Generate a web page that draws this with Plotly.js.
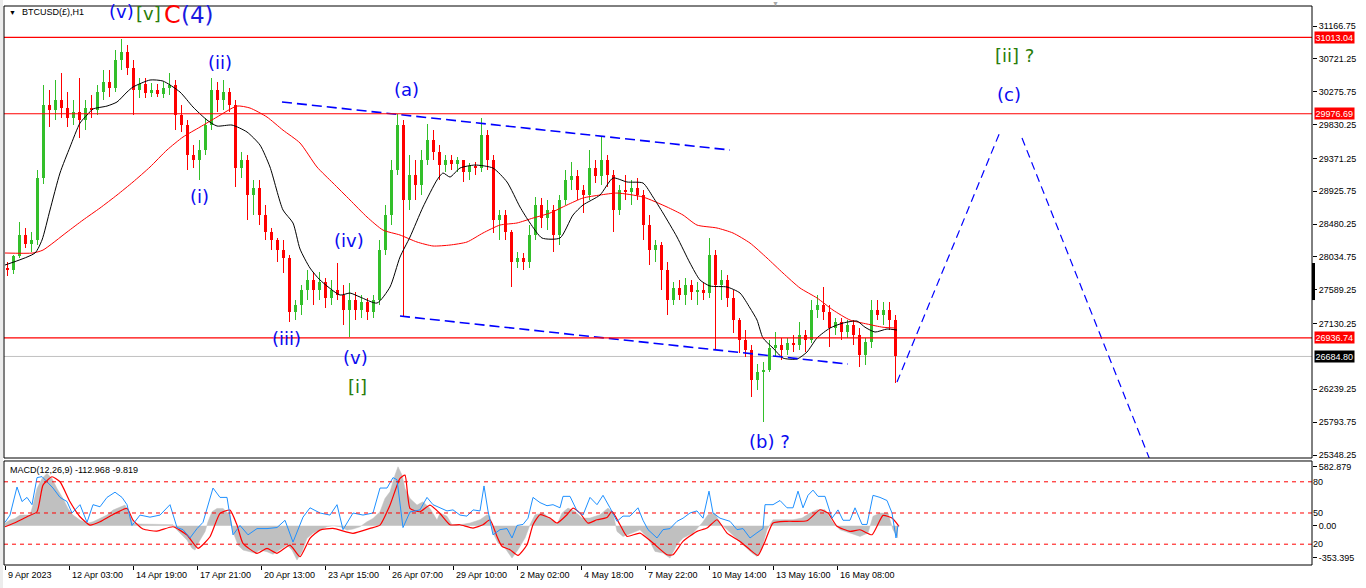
<!DOCTYPE html>
<html>
<head>
<meta charset="utf-8">
<script src="https://cdn.plot.ly/plotly-3.0.1.min.js"></script>
<style>
html,body{margin:0;padding:0;background:#ffffff;}
#chart{width:1366px;height:588px;}
</style>
</head>
<body>
<div id="chart"></div>
<script>
// ---------- DATA ----------
// Each drawn candle aggregates 6 hourly bars (bar index = hourly bar number)
const BARS_PER_CANDLE = 6;

const opens = [
27884,27857,28047,28332,28210,28264,29105,30095,30027,30163,
30054,29919,29999,29891,30054,30027,30271,30407,30325,30705,
30814,30597,30298,30380,30258,30298,30244,30325,30366,29959,
29823,29417,29349,29485,29823,30298,30163,30271,30095,29240,
29349,28874,28969,28603,28372,28264,28128,28020,27287,27382,
27586,27722,27586,27694,27478,27586,27518,27314,27450,27314,
27423,27287,27450,28128,28603,29213,29823,28807,29145,29010,
29349,29620,29457,29281,29349,29295,29349,29186,29268,29240,
29688,29349,28535,28603,28372,27966,28020,27966,28332,28739,
28562,28671,28332,28807,29078,29132,28942,28874,29240,29132,
29349,29145,28671,28942,28915,28969,28874,28467,28128,28196,
27857,27450,27613,27518,27654,27559,27586,27545,28061,27654,
27722,27478,27179,26908,26772,26365,26474,26501,26799,26840,
26772,26867,26840,26975,26908,27314,27382,27287,27070,27152,
27016,27111,26975,26704,26880,27314,27247,27314,27179];
const highs = [
27966,28061,28508,28427,28372,29213,30366,30298,30434,30529,
30271,30163,30461,30163,30230,30366,30570,30570,30841,30990,
30909,30705,30461,30461,30393,30380,30407,30529,30434,30095,
29891,29552,29620,29919,30461,30407,30434,30325,30163,29457,
29417,29078,29078,28739,28427,28291,28264,28061,27450,27654,
27857,27830,27830,27749,27722,27952,27654,27681,27559,27518,
27478,27518,28264,28739,29349,29973,29891,29417,29349,29485,
29837,29754,29552,29417,29417,29390,29349,29308,29322,29919,
29754,29417,28671,28671,28399,28101,28088,28467,28847,28834,
28807,28739,28874,29213,29322,29213,29010,29485,29349,29661,
29417,29213,29010,29145,29078,29105,28942,28603,28264,28237,
27966,27694,27722,27749,27722,27694,27681,28291,28128,27857,
27789,27586,27206,27043,26840,26582,26609,26908,27016,26935,
26935,26975,27152,27043,27450,27518,27627,27382,27206,27206,
27179,27179,27070,26935,27450,27450,27423,27423,27247];
const lows = [
27776,27803,28020,28156,28101,28196,29023,29796,29891,29919,
29796,29823,29647,29754,29919,29959,30163,30203,30271,30570,
30502,29959,30190,30190,30203,30203,30190,30230,29754,29729,
29213,29240,29078,29417,29754,29999,30027,29999,28983,29105,
28535,28603,28467,28264,28128,27966,27816,27152,27179,27247,
27450,27382,27450,27342,27382,27450,27111,26948,27179,27206,
27179,27206,27382,28061,28467,29145,27220,28671,28807,28874,
29281,29349,29078,29186,29213,29186,29051,29078,29145,29186,
29213,28359,28264,28264,27627,27884,27857,27884,28264,28427,
28399,28101,28196,28739,28942,28807,28630,28807,29037,29010,
28983,28372,28603,28807,28739,28807,28264,27925,27966,27586,
27247,27382,27450,27382,27450,27382,27450,27478,26772,27450,
27355,27003,26731,26677,26134,26229,25795,26474,26677,26636,
26704,26745,26772,26745,26867,27206,27179,26813,26975,26908,
26935,26840,26541,26569,26799,27179,27111,27043,26325];
const closes = [
27857,28047,28332,28210,28264,29105,30095,30027,30163,30054,
29919,29999,29891,30054,30027,30271,30407,30325,30705,30814,
30597,30298,30380,30258,30298,30244,30325,30366,29959,29823,
29417,29349,29485,29823,30298,30163,30271,30095,29240,29349,
28874,28969,28603,28372,28264,28128,28020,27287,27382,27586,
27722,27586,27694,27478,27586,27518,27314,27450,27314,27423,
27287,27450,28128,28603,29213,29823,28807,29145,29010,29349,
29620,29457,29281,29349,29295,29349,29186,29268,29240,29688,
29349,28535,28603,28372,27966,28020,27966,28332,28739,28562,
28671,28332,28807,29078,29132,28942,28874,29240,29132,29349,
29145,28671,28942,28915,28969,28874,28467,28128,28196,27857,
27450,27613,27518,27654,27559,27586,27545,28061,27654,27722,
27478,27179,26908,26772,26365,26474,26501,26799,26840,26772,
26867,26840,26975,26908,27314,27382,27287,27070,27152,27016,
27111,26975,26704,26880,27314,27247,27314,27179,26685];

// Black (fast) moving average, read at bar positions
const maFastBars = [0,30,37,45,55,65,75,82,88,102,112,122,128,145,158,175,188,202,212,227,242,255,265,278,288,295,305,315,335,345,355,372,385,395,405,418,432,438,445,455,470,488,502,515,525,537,555,568,578,595,608,622,638,648,658,672,685,695,705,722,735,745,752,758,768,778,792,802,812,825,838,852,860,870,882,892];
const maFastVals = [27925,28088,28264,28671,29173,29525,29851,29959,30041,30081,30136,30271,30339,30434,30420,30271,30068,29891,29810,29823,29729,29552,29254,28671,28495,28142,27884,27722,27518,27545,27491,27409,27627,28033,28305,28712,29078,29173,29118,29240,29281,29240,29051,28712,28495,28291,28291,28603,28739,28874,29105,29051,29037,28847,28630,28305,27952,27722,27640,27627,27545,27342,27179,26935,26799,26663,26650,26745,26935,27070,27138,27165,27081,27016,27057,27043];
// Red (slow) moving average
const maSlowBars = [0,28,38,62,78,95,112,128,145,162,178,195,212,232,245,262,278,295,312,328,345,362,378,395,412,428,445,462,478,495,512,528,545,562,578,595,612,638,662,678,692,712,728,745,762,778,795,812,828,845,862,878,892];
const maSlowVals = [28088,28088,28128,28372,28535,28698,28874,29051,29254,29485,29661,29796,29932,30081,30054,29932,29754,29580,29254,29037,28807,28576,28399,28332,28237,28183,28196,28237,28359,28467,28495,28562,28630,28739,28834,28874,28901,28847,28712,28603,28467,28427,28359,28223,28020,27816,27613,27478,27314,27179,27125,27081,27070];

// MACD(12,26,9): main (grey histogram) and signal (red)
const macdBars = [0,5,10,15,25,28,32,37,42,47,52,58,63,68,75,82,88,95,102,108,115,120,125,128,135,152,168,172,177,182,187,190,195,200,203,207,212,218,225,228,233,238,245,250,255,262,268,275,282,287,292,297,302,308,315,322,328,335,342,348,355,362,368,375,380,385,390,393,397,400,405,412,418,425,432,435,442,447,455,465,475,482,485,488,493,500,507,513,520,525,530,538,547,552,557,563,570,577,585,595,603,608,612,618,627,635,643,650,658,665,672,678,688,697,703,710,715,722,730,738,747,752,757,762,768,778,788,797,805,812,820,827,835,845,855,863,868,875,883,888,893];
const macdVals = [22,51,66,96,96,186,336,426,471,426,336,246,156,96,51,22,36,66,96,141,171,186,96,22,15,15,10,-39,-84,-129,-203,-219,-129,-54,36,126,156,156,96,-54,-174,-219,-234,-248,-219,-234,-257,-219,-174,-219,-309,-234,-113,-68,-39,-9,0,-9,-39,-30,-9,36,66,126,246,306,456,531,456,336,246,186,216,156,51,114,85,9,9,24,54,99,85,-66,-156,-201,-291,-216,-111,9,99,114,54,9,114,159,129,69,69,99,159,114,-51,-96,-66,-36,-111,-231,-246,-291,-171,-111,-66,24,99,114,24,-36,-111,-171,-246,-276,-201,-36,54,54,54,69,114,144,144,40,-36,-66,-96,-66,85,114,114,-36,-111];
const signalBars = [0,12,22,32,38,47,55,65,75,85,95,108,122,128,138,152,168,182,193,205,215,225,232,238,252,262,272,285,295,305,315,328,348,365,375,385,395,400,405,415,425,435,445,455,468,478,485,492,497,505,513,522,528,535,545,552,562,568,575,583,592,602,607,615,622,635,648,662,668,678,692,702,712,722,735,745,753,760,768,782,802,815,823,832,845,855,867,878,887,894];
const signalVals = [-9,36,81,126,366,441,396,216,81,6,36,102,156,51,-30,-48,-9,-84,-203,-99,111,141,6,-159,-248,-203,-248,-174,-279,-113,-39,-24,-68,-24,6,186,426,456,156,126,186,110,9,9,-21,9,54,-96,-186,-216,-267,-171,9,99,69,24,99,159,114,24,54,75,129,9,-96,-66,-156,-261,-261,-141,-51,-21,54,-66,-141,-216,-267,-141,24,40,45,144,114,-5,-51,-36,-81,93,69,-5];
// Blue oscillator (0-100 scale, levels 80 / 50 / 20)
const oscBars = [0,5,12,17,22,27,32,37,42,48,55,62,67,75,82,88,95,102,110,117,122,127,135,145,155,165,172,178,185,192,198,205,208,215,222,228,235,243,252,262,272,280,288,298,305,315,325,332,338,348,358,368,375,382,388,392,398,405,415,422,428,435,442,448,455,462,468,475,479,483,488,495,502,507,512,518,523,528,535,542,548,555,558,565,572,578,585,592,598,605,612,618,625,633,638,643,652,658,665,672,678,685,692,698,704,708,715,725,732,738,745,752,758,760,768,775,782,788,793,798,803,808,813,820,827,833,838,845,850,857,862,868,875,882,887,891,893];
const oscVals = [41,48,75,61,65,58,84,85,80,74,65,61,50,58,41,58,56,65,70,65,58,38,48,46,48,58,36,34,26,35,41,65,74,65,65,29,38,29,35,35,36,43,22,46,55,50,48,58,34,50,48,50,74,74,84,82,36,51,53,65,58,55,52,53,48,47,53,52,76,52,29,34,35,26,38,39,45,65,60,57,58,55,66,66,52,48,65,58,67,55,42,47,47,55,43,34,26,34,35,42,45,50,52,45,71,50,45,42,34,35,26,31,35,58,58,62,55,55,71,55,67,72,66,66,45,53,43,43,55,39,39,67,65,62,50,26,38];
const oscLevels = [80, 50, 20];

// Axis ticks
const timeTickBars = [0,64,128,192,256,320,384,448,512,576,640,704,768,832];
const timeTickLabels = ["9 Apr 2023","12 Apr 03:00","14 Apr 19:00","17 Apr 21:00","20 Apr 13:00","23 Apr 15:00","26 Apr 07:00","29 Apr 10:00","2 May 02:00","4 May 18:00","7 May 22:00","10 May 14:00","13 May 16:00","16 May 08:00"];
const priceTicks = [31166.75,30721.25,30275.75,29830.25,29371.25,28925.75,28480.25,28034.75,27589.25,27130.25,26239.25,25793.75,25348.25];
const macdMax = 582.879, macdMin = -353.395;

// Horizontal levels and last price
const levelPrices = [31013.04, 29976.69, 26936.74];
const lastPrice = 26684.80;

// Trend channel and projected path (bar index, price)
const channelUpperBars = [277, 725], channelUpperPrices = [30136, 29485];
const channelLowerBars = [395, 843], channelLowerPrices = [27233, 26582];
const projUpBars = [892, 995], projUpPrices = [26338, 29729];
const projDownBars = [1017, 1145], projDownPrices = [29647, 25280];

// Elliott wave labels
const waveTexts   = ["(v)","[v]","C","(4)","(ii)","(i)","(iii)","(iv)","(v)","[i]","(a)","(b) ?","(c)","[ii] ?"];
const waveBars    = [116,143,167,192,215,194,281,344,350,352,401,764,1004,1009];
const wavePrices  = [31370,31343,31316,31316,30665,28861,26922,28251,26664,26271,30299,25525,30231,30760];
const waveDegrees = ["minute","minor","primary","intermediate","minute","minute","minute","minute","minute","minor","minute","minute","minute","minor"];

// ---------- STYLE ----------
const AX_FONT = "'Liberation Sans', Arial, sans-serif";
const LBL_FONT = "'DejaVu Sans', Verdana, sans-serif";
const degreeStyle = {
  minute: {color:'#0a0af0', size:18},
  minor: {color:'#2a7d0a', size:18},
  primary: {color:'#ff0000', size:24},
  intermediate: {color:'#1a1ae0', size:23}
};
const UP = '#33bf2a', DOWN = '#ff0000';
const PLOT_W = 1308, PLOT_H = 559;
const px2paperX = px => (px - 4) / PLOT_W;
const py2paperY = py => (565 - py) / PLOT_H;

// candle geometry derived from the OHLC arrays
const candleX = opens.map((_, i) => i * BARS_PER_CANDLE + BARS_PER_CANDLE / 2 - 0.5);
const candleColor = opens.map((o, i) => closes[i] >= o ? UP : DOWN);
const bodyBase = opens.map((o, i) => Math.min(o, closes[i]));
const bodySize = opens.map((o, i) => Math.max(Math.abs(closes[i] - o), 8));
const wickSize = highs.map((h, i) => h - lows[i]);

const traces = [
  {type:'bar', x:candleX, base:lows, y:wickSize, width:1.1, xaxis:'x', yaxis:'y',
   marker:{color:candleColor, line:{width:0}}, hoverinfo:'skip'},
  {type:'bar', x:candleX, base:bodyBase, y:bodySize, width:3, xaxis:'x', yaxis:'y',
   marker:{color:candleColor, line:{width:0}}, hoverinfo:'skip'},
  {type:'scatter', mode:'lines', x:maSlowBars, y:maSlowVals, xaxis:'x', yaxis:'y',
   line:{color:'#ff0000', width:1, shape:'spline', smoothing:0.6}, hoverinfo:'skip'},
  {type:'scatter', mode:'lines', x:maFastBars, y:maFastVals, xaxis:'x', yaxis:'y',
   line:{color:'#000000', width:1, shape:'spline', smoothing:0.6}, hoverinfo:'skip'},
  {type:'scatter', mode:'lines', x:channelUpperBars, y:channelUpperPrices, xaxis:'x', yaxis:'y',
   line:{color:'#0000ff', width:1.6, dash:'10px,5px'}, hoverinfo:'skip'},
  {type:'scatter', mode:'lines', x:channelLowerBars, y:channelLowerPrices, xaxis:'x', yaxis:'y',
   line:{color:'#0000ff', width:1.6, dash:'10px,5px'}, hoverinfo:'skip'},
  {type:'scatter', mode:'lines', x:projUpBars, y:projUpPrices, xaxis:'x', yaxis:'y',
   line:{color:'#0000ff', width:1.2, dash:'8px,5px'}, hoverinfo:'skip'},
  {type:'scatter', mode:'lines', x:projDownBars, y:projDownPrices, xaxis:'x', yaxis:'y',
   line:{color:'#0000ff', width:1.2, dash:'8px,5px'}, hoverinfo:'skip'},
  // MACD panel
  {type:'scatter', mode:'lines', x:macdBars, y:macdVals, xaxis:'x', yaxis:'y2',
   fill:'tozeroy', fillcolor:'#c0c0c0', line:{color:'#c0c0c0', width:0.5}, hoverinfo:'skip'},
  {type:'scatter', mode:'lines', x:signalBars, y:signalVals, xaxis:'x', yaxis:'y2',
   line:{color:'#ff0000', width:1.2, shape:'spline', smoothing:0.5}, hoverinfo:'skip'},
  {type:'scatter', mode:'lines', x:oscBars, y:oscVals, xaxis:'x', yaxis:'y3',
   line:{color:'#1e90ff', width:1}, hoverinfo:'skip'}
];

const shapes = [];
levelPrices.forEach(p => shapes.push({type:'line', xref:'paper', x0:0, x1:1, yref:'y', y0:p, y1:p,
  line:{color:'#ff0000', width:1.2}}));
shapes.push({type:'line', xref:'paper', x0:0, x1:1, yref:'y', y0:lastPrice, y1:lastPrice,
  line:{color:'#c0c0c0', width:1}, layer:'below'});
oscLevels.forEach(v => shapes.push({type:'line', xref:'paper', x0:0, x1:1, yref:'y3', y0:v, y1:v,
  line:{color:'#ff0000', width:1, dash:'4px,4px'}}));
shapes.push({type:'rect', xref:'paper', x0:0, x1:1, yref:'y domain', y0:0, y1:1,
  line:{color:'#000000', width:1}, fillcolor:'rgba(0,0,0,0)'});
shapes.push({type:'rect', xref:'paper', x0:0, x1:1, yref:'y2 domain', y0:0, y1:1,
  line:{color:'#000000', width:1}, fillcolor:'rgba(0,0,0,0)'});
shapes.push({type:'rect', xref:'paper', x0:-4/PLOT_W, x1:-1/PLOT_W, yref:'paper', y0:-23/PLOT_H, y1:1+6/PLOT_H,
  line:{width:0}, fillcolor:'#ececec'});
shapes.push({type:'rect', xref:'paper', x0:1, x1:1+3/PLOT_W, yref:'y', y0:27450, y1:27952,
  line:{width:0}, fillcolor:'#000000'});

const annotations = [];
// title and indicator caption
annotations.push({xref:'paper', yref:'paper', x:px2paperX(12), y:py2paperY(13), text:'▼', showarrow:false,
  font:{family:AX_FONT, size:7, color:'#000'}, xanchor:'center', yanchor:'middle'});
annotations.push({xref:'paper', yref:'paper', x:px2paperX(20), y:py2paperY(12), text:'BTCUSD(£),H1', showarrow:false,
  font:{family:AX_FONT, size:9, color:'#000'}, xanchor:'left', yanchor:'middle'});
annotations.push({xref:'paper', yref:'paper', x:px2paperX(8), y:py2paperY(470), text:'MACD(12,26,9) -112.968 -9.819', showarrow:false,
  font:{family:AX_FONT, size:9, color:'#000'}, xanchor:'left', yanchor:'middle'});
annotations.push({xref:'x', yref:'paper', x:770, y:py2paperY(4), text:'▼', showarrow:false,
  font:{family:AX_FONT, size:7, color:'#a8a8a8'}, xanchor:'center', yanchor:'middle'});
// time labels (left aligned at tick)
timeTickBars.forEach((b, i) => annotations.push({xref:'x', yref:'paper', x:b, y:0, text:timeTickLabels[i],
  showarrow:false, xanchor:'left', yanchor:'top', xshift:1, yshift:-3,
  font:{family:AX_FONT, size:9, color:'#000'}}));
// price tags
levelPrices.forEach(p => annotations.push({xref:'paper', yref:'y', x:1, y:p, text:p.toFixed(2), showarrow:false,
  xanchor:'left', yanchor:'middle', xshift:2, bgcolor:'#ff0000', borderpad:0.5,
  font:{family:AX_FONT, size:9, color:'#ffffff'}}));
annotations.push({xref:'paper', yref:'y', x:1, y:lastPrice, text:lastPrice.toFixed(2), showarrow:false,
  xanchor:'left', yanchor:'middle', xshift:2, bgcolor:'#000000', borderpad:0.5,
  font:{family:AX_FONT, size:9, color:'#ffffff'}});
// wave labels
waveTexts.forEach((t, i) => {
  const st = degreeStyle[waveDegrees[i]];
  annotations.push({xref:'x', yref:'y', x:waveBars[i], y:wavePrices[i], text:t, showarrow:false,
    xanchor:'center', yanchor:'middle', font:{family:LBL_FONT, size:st.size, color:st.color}});
});

const tickFont = {family:AX_FONT, size:9, color:'#000'};
const layout = {
  width:1366, height:588,
  margin:{l:4, r:54, t:6, b:23, pad:0},
  paper_bgcolor:'#ffffff', plot_bgcolor:'#ffffff',
  showlegend:false, hovermode:false, dragmode:false,
  barmode:'overlay', bargap:0,
  xaxis:{domain:[0,1], range:[-1,1307], anchor:'y2', showgrid:false, zeroline:false, showline:false,
    tickmode:'array', tickvals:timeTickBars, ticktext:timeTickBars.map(() => ''), showticklabels:false,
    ticks:'outside', ticklen:4, tickcolor:'#000', fixedrange:true},
  yaxis:{domain:[0.19141,1], range:[25307.5,31438], side:'right', anchor:'x', showgrid:false, zeroline:false,
    showline:false, tickmode:'array', tickvals:priceTicks, ticktext:priceTicks.map(v => v.toFixed(2)),
    ticks:'outside', ticklen:4, tickcolor:'#000', tickfont:tickFont, fixedrange:true},
  yaxis2:{domain:[0,0.18605], range:[macdMin, macdMax], side:'right', anchor:'x', showgrid:false, zeroline:false,
    showline:false, tickmode:'array', tickvals:[macdMax - 54, 0, macdMin + 63],
    ticktext:[String(macdMax), '0.00', String(macdMin)],
    ticks:'outside', ticklen:4, tickcolor:'#000', tickfont:tickFont, fixedrange:true},
  yaxis3:{overlaying:'y2', range:[0,100], side:'right', anchor:'x', showgrid:false, zeroline:false,
    showline:false, tickmode:'array', tickvals:oscLevels, ticktext:oscLevels.map(String),
    ticks:'', tickfont:tickFont, fixedrange:true},
  shapes:shapes,
  annotations:annotations
};

Plotly.newPlot('chart', traces, layout, {displayModeBar:false, staticPlot:true});
</script>
</body>
</html>
